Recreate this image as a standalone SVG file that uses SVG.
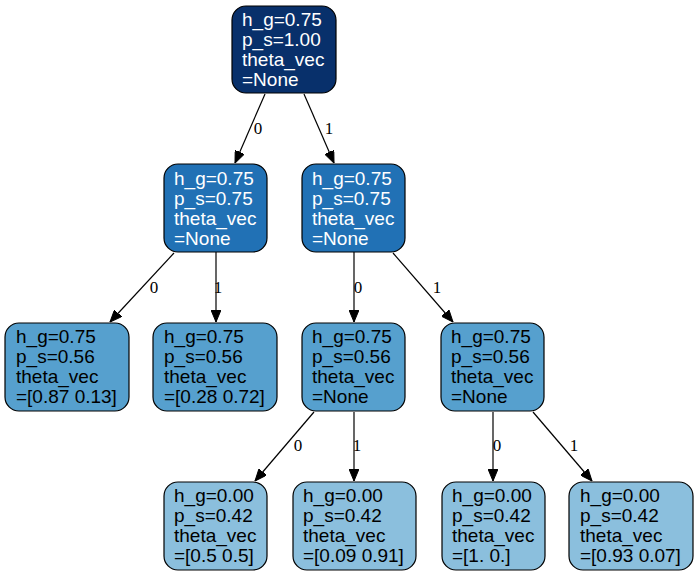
<svg xmlns="http://www.w3.org/2000/svg" width="699" height="577" viewBox="0 0 699 577">
<defs>
<style>
.n rect{stroke:#000;stroke-width:1.2}
.n text{font-family:"Liberation Sans",Arial,sans-serif;font-size:19px}
.w text{fill:#fff}
.b text{fill:#000}
.e{stroke:#000;stroke-width:1.2;fill:none;marker-end:url(#ah)}
.l{font-family:"Liberation Serif","Times New Roman",serif;font-size:17px;fill:#000;text-anchor:middle}
</style>
<marker id="ah" markerWidth="12" markerHeight="10" viewBox="0 0 12 10" refX="12" refY="5" orient="auto" markerUnits="userSpaceOnUse">
<path d="M0,0 L12,5 L0,10 Z" fill="#000" stroke="#000" stroke-width="1"/>
</marker>
</defs>
<rect width="699" height="577" fill="#fff"/>
<g id="connectors">
<path class="e" d="M265,94 L235,163"/>
<text class="l" x="258" y="134">0</text>
<path class="e" d="M304,94 L334,163"/>
<text class="l" x="329" y="134">1</text>
<path class="e" d="M174,253 L110,322"/>
<text class="l" x="154" y="293">0</text>
<path class="e" d="M216,252 L216,322"/>
<text class="l" x="218" y="293">1</text>
<path class="e" d="M354,252 L354,322"/>
<text class="l" x="358" y="293">0</text>
<path class="e" d="M393,253 L453,322"/>
<text class="l" x="437" y="293">1</text>
<path class="e" d="M314,412 L255,481"/>
<text class="l" x="298" y="451">0</text>
<path class="e" d="M354,412 L354,481"/>
<text class="l" x="357" y="451">1</text>
<path class="e" d="M493,412 L493,481"/>
<text class="l" x="497" y="451">0</text>
<path class="e" d="M533,412 L592,481"/>
<text class="l" x="574" y="451">1</text>
</g>
<g id="n0" class="n w">
<rect x="232" y="6" width="104" height="87" rx="14" fill="#08306b"/>
<text x="242" y="26">h_g=0.75</text><text x="242" y="46">p_s=1.00</text><text x="242" y="66">theta_vec</text><text x="242" y="86">=None</text>
</g>
<g id="n1" class="n w">
<rect x="164" y="164" width="103" height="88" rx="14" fill="#2171b5"/>
<text x="174" y="185">h_g=0.75</text><text x="174" y="205">p_s=0.75</text><text x="174" y="225">theta_vec</text><text x="174" y="245">=None</text>
</g>
<g id="n2" class="n w">
<rect x="302" y="164" width="103" height="88" rx="14" fill="#2171b5"/>
<text x="312" y="185">h_g=0.75</text><text x="312" y="205">p_s=0.75</text><text x="312" y="225">theta_vec</text><text x="312" y="245">=None</text>
</g>
<g id="n3" class="n b">
<rect x="5" y="323" width="124" height="88" rx="14" fill="#56a0ce"/>
<text x="16" y="343">h_g=0.75</text><text x="16" y="363">p_s=0.56</text><text x="16" y="383">theta_vec</text><text x="16" y="403">=[0.87 0.13]</text>
</g>
<g id="n4" class="n b">
<rect x="153" y="323" width="124" height="88" rx="14" fill="#56a0ce"/>
<text x="164" y="343">h_g=0.75</text><text x="164" y="363">p_s=0.56</text><text x="164" y="383">theta_vec</text><text x="164" y="403">=[0.28 0.72]</text>
</g>
<g id="n5" class="n b">
<rect x="302" y="323" width="103" height="88" rx="14" fill="#56a0ce"/>
<text x="312" y="343">h_g=0.75</text><text x="312" y="363">p_s=0.56</text><text x="312" y="383">theta_vec</text><text x="312" y="403">=None</text>
</g>
<g id="n6" class="n b">
<rect x="441" y="323" width="103" height="88" rx="14" fill="#56a0ce"/>
<text x="451" y="343">h_g=0.75</text><text x="451" y="363">p_s=0.56</text><text x="451" y="383">theta_vec</text><text x="451" y="403">=None</text>
</g>
<g id="n7" class="n b">
<rect x="164" y="482" width="103" height="88" rx="14" fill="#8bbfdd"/>
<text x="174" y="502">h_g=0.00</text><text x="174" y="522">p_s=0.42</text><text x="174" y="542">theta_vec</text><text x="174" y="562">=[0.5 0.5]</text>
</g>
<g id="n8" class="n b">
<rect x="293" y="482" width="123" height="88" rx="14" fill="#8bbfdd"/>
<text x="303" y="502">h_g=0.00</text><text x="303" y="522">p_s=0.42</text><text x="303" y="542">theta_vec</text><text x="303" y="562">=[0.09 0.91]</text>
</g>
<g id="n9" class="n b">
<rect x="442" y="482" width="103" height="88" rx="14" fill="#8bbfdd"/>
<text x="452" y="502">h_g=0.00</text><text x="452" y="522">p_s=0.42</text><text x="452" y="542">theta_vec</text><text x="452" y="562">=[1. 0.]</text>
</g>
<g id="n10" class="n b">
<rect x="569" y="482" width="124" height="88" rx="14" fill="#8bbfdd"/>
<text x="580" y="502">h_g=0.00</text><text x="580" y="522">p_s=0.42</text><text x="580" y="542">theta_vec</text><text x="580" y="562">=[0.93 0.07]</text>
</g>
</svg>
